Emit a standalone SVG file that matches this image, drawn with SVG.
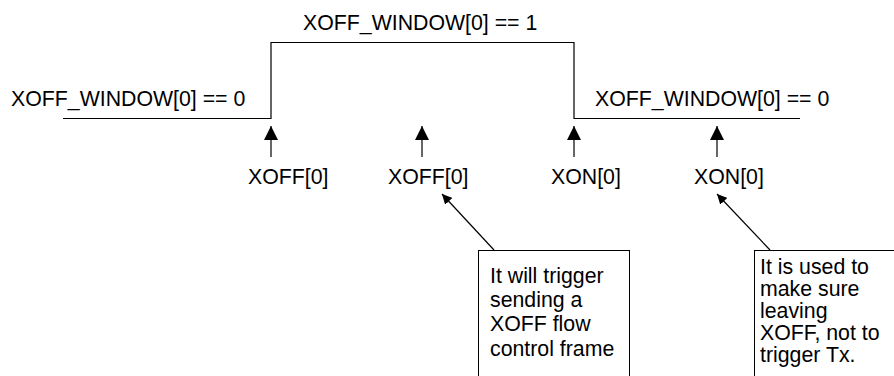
<svg xmlns="http://www.w3.org/2000/svg" width="894" height="376" viewBox="0 0 894 376">
<style>
text{font-family:"Liberation Sans",Arial,sans-serif;font-size:21.3px;fill:#000}
.w{fill:none;stroke:#000;stroke-width:1.2}
.a{stroke:#000;stroke-width:1.2;fill:none}
.b{fill:#fff;stroke:#000;stroke-width:1}
</style>
<defs>
<marker id="ah" viewBox="0 0 10 10" refX="10" refY="5" markerWidth="10" markerHeight="10" markerUnits="userSpaceOnUse" orient="auto"><path d="M0,0 L10,5 L0,10 z" fill="#000"/></marker>
<marker id="av" viewBox="0 0 14 14" refX="14" refY="7" markerWidth="14" markerHeight="14" markerUnits="userSpaceOnUse" orient="auto"><path d="M0,0 L14,7 L0,14 z" fill="#000"/></marker>
</defs>
<g id="waveform">
<path class="w" d="M63,118.5 H271 V42.5 H574 V118.5 H800"/>
<text x="11" y="106">XOFF_WINDOW[0] == 0</text>
<text x="303" y="30">XOFF_WINDOW[0] == 1</text>
<text x="595" y="106">XOFF_WINDOW[0] == 0</text>
</g>
<g id="connectors">
<line class="a" x1="271" y1="157" x2="271" y2="126" marker-end="url(#av)"/>
<line class="a" x1="422" y1="157" x2="422" y2="126" marker-end="url(#av)"/>
<line class="a" x1="574" y1="157" x2="574" y2="126" marker-end="url(#av)"/>
<line class="a" x1="717" y1="157" x2="717" y2="126" marker-end="url(#av)"/>
<line class="a" x1="494" y1="250" x2="442" y2="194" marker-end="url(#ah)"/>
<line class="a" x1="770" y1="250" x2="717" y2="194" marker-end="url(#ah)"/>
</g>
<g id="xoff1"><text x="248" y="184">XOFF[0]</text></g>
<g id="xoff2"><text x="388" y="184">XOFF[0]</text></g>
<g id="xon1"><text x="551" y="184">XON[0]</text></g>
<g id="xon2"><text x="694" y="184">XON[0]</text></g>
<g id="note1">
<rect class="b" x="478.5" y="250.5" width="151" height="130"/>
<text x="490" y="283">It will trigger</text>
<text x="490" y="307">sending a</text>
<text x="490" y="331">XOFF flow</text>
<text x="490" y="356">control frame</text>
</g>
<g id="note2">
<rect class="b" x="754.5" y="250.5" width="145" height="130"/>
<text x="760" y="274">It is used to</text>
<text x="760" y="296">make sure</text>
<text x="760" y="318">leaving</text>
<text x="760" y="340">XOFF, not to</text>
<text x="760" y="362">trigger Tx.</text>
</g>
</svg>
